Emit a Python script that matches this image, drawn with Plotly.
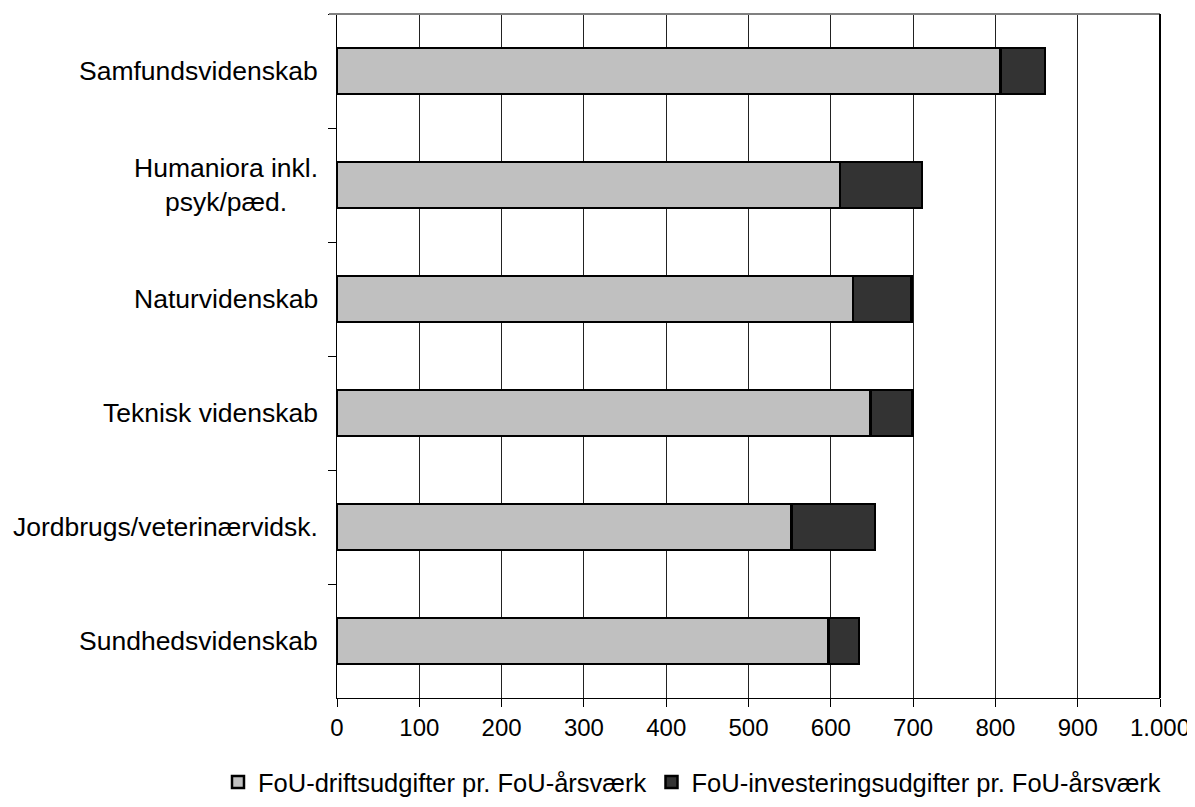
import plotly.graph_objects as go

categories = ["Samfundsvidenskab", "Humaniora inkl.<br>psyk/pæd.", "Naturvidenskab",
              "Teknisk videnskab", "Jordbrugs/veterinærvidsk.", "Sundhedsvidenskab"]
drift = [806, 611, 627, 648, 552, 597]
invest = [54, 100, 71, 51, 102, 37]
series_names = ["FoU-driftsudgifter pr. FoU-årsværk", "FoU-investeringsudgifter pr. FoU-årsværk"]
x_tickvals = [0, 100, 200, 300, 400, 500, 600, 700, 800, 900, 1000]
x_ticktext = ["0", "100", "200", "300", "400", "500", "600", "700", "800", "900", "1.000"]

FONT = "Liberation Sans, Arial, sans-serif"
FS = 26.5

fig = go.Figure()
fig.add_trace(go.Bar(y=categories, x=drift, orientation="h", name=series_names[0],
                     marker=dict(color="#C0C0C0", line=dict(color="#000000", width=2.5))))
fig.add_trace(go.Bar(y=categories, x=invest, orientation="h", name=series_names[1],
                     marker=dict(color="#333333", line=dict(color="#000000", width=2.5))))

fig.update_layout(
    barmode="stack",
    bargap=0.6,
    width=1195, height=807,
    margin=dict(l=329, r=43, t=6, b=117, autoexpand=False),
    paper_bgcolor="white", plot_bgcolor="white",
    font=dict(family=FONT, size=FS, color="black"),
    showlegend=True,
    legend=dict(orientation="h", x=-0.1446, xanchor="left", y=-0.089, yanchor="top",
                font=dict(size=25.5), itemwidth=30, traceorder="normal",
                tracegroupgap=0, bgcolor="rgba(0,0,0,0)"),
    xaxis=dict(range=[0, 1000], tickvals=x_tickvals, ticktext=x_ticktext,
               showgrid=True, gridcolor="#222222", gridwidth=1,
               ticks="outside", ticklen=8, tickcolor="black",
               showline=True, linecolor="black", linewidth=1,
               zeroline=False, tickfont=dict(size=24), ticklabelstandoff=0),
    yaxis=dict(type="category", autorange="reversed", tickson="boundaries",
               ticks="outside", ticklen=8, tickcolor="black",
               showline=True, linecolor="black", linewidth=1,
               showgrid=False, showticklabels=False),
)

# category labels, centred multi-line like the original
for cat in categories:
    fig.add_annotation(x=0, xref="paper", y=cat, yref="y", text=cat,
                       xanchor="right", yanchor="middle", align="center",
                       xshift=-17, showarrow=False, font=dict(size=FS))

# plot-area top border (gray) and right border
fig.add_shape(type="line", xref="paper", yref="paper", x0=-0.0097, x1=1, y0=1, y1=1,
              line=dict(color="#808080", width=2))
fig.add_shape(type="line", xref="paper", yref="paper", x0=1, x1=1, y0=0, y1=1,
              line=dict(color="#000000", width=2))

fig.write_html("out.html")
